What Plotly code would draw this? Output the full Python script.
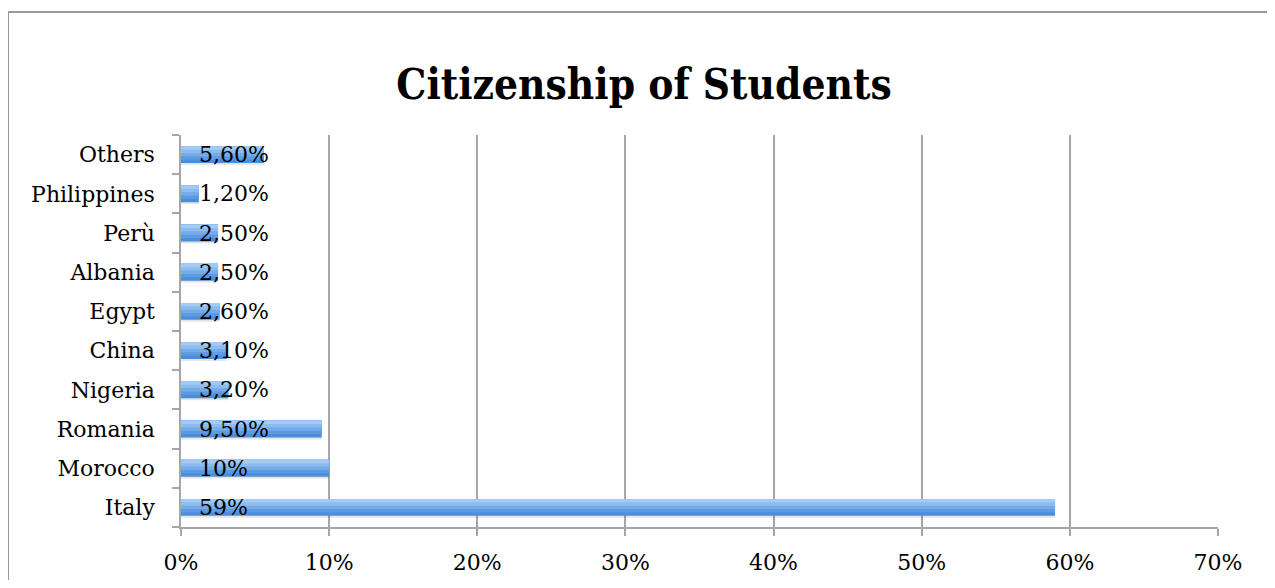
import plotly.graph_objects as go

countries = ["Italy", "Morocco", "Romania", "Nigeria", "China", "Egypt",
             "Albania", "Perù", "Philippines", "Others"]
shares = [59, 10, 9.5, 3.2, 3.1, 2.6, 2.5, 2.5, 1.2, 5.6]
labels = ["59%", "10%", "9,50%", "3,20%", "3,10%", "2,60%", "2,50%", "2,50%",
          "1,20%", "5,60%"]
x_ticks = [0, 10, 20, 30, 40, 50, 60, 70]
x_tick_text = ["0%", "10%", "20%", "30%", "40%", "50%", "60%", "70%"]

FONT = "DejaVu Serif"
GRAY = "#a6a6a6"
FS = 22

# gradient bands (bottom -> top) to mimic the shaded bars
band_colors = ["#4a8dd8", "#5c9ae2", "#75abeb", "#8dbcf1", "#a4cbf6"]
BAR_W = 0.43
n = len(band_colors)
bw = BAR_W / n

fig = go.Figure()
# soft shadow under the bar
fig.add_trace(go.Bar(
    x=shares, y=countries, orientation="h",
    width=0.06, offset=-BAR_W / 2 - 0.05,
    marker=dict(color="rgba(0,0,0,0.10)", line=dict(width=0)),
    hoverinfo="skip",
))
for i, col in enumerate(band_colors):
    fig.add_trace(go.Bar(
        x=shares, y=countries, orientation="h",
        width=BAR_W - i * bw, offset=-BAR_W / 2 + i * bw,
        marker=dict(color=col, line=dict(width=0)),
        hoverinfo="skip",
    ))

for c, lab in zip(countries, labels):
    fig.add_annotation(x=0, y=c, text=lab, showarrow=False, xanchor="left",
                       xshift=16, yshift=0,
                       font=dict(family=FONT, size=FS, color="#000000"))

# page has an 8px body margin; figure coordinates = page coordinates - 8
OFF = 8
W, H = 1275 - 2 * OFF, 588 - 2 * OFF
L, T = 181 - OFF, 135 - OFF
R = W - (1218 - OFF)
B = H - (527 - OFF)
pw, ph = W - L - R, H - T - B
fig.add_shape(type="rect", xref="paper", yref="paper",
              x0=(8 - OFF - L) / pw, x1=(1300 - L) / pw,
              y0=(H - B - 620) / ph, y1=(H - B - (12 - OFF)) / ph,
              line=dict(color="#999999", width=2), fillcolor="rgba(0,0,0,0)",
              layer="below")

fig.update_layout(
    width=W, height=H,
    margin=dict(l=L, r=R, t=T, b=B, autoexpand=False),
    paper_bgcolor="white", plot_bgcolor="white",
    showlegend=False,
    barmode="overlay",
    title=dict(text="<b>Citizenship of Students</b>", x=(644 - OFF - L) / pw,
               xref="paper", xanchor="center", y=1 - (84 - OFF) / H,
               yanchor="middle",
               font=dict(family="DejaVu Serif Condensed", size=42, color="#000000")),
    xaxis=dict(range=[0, 70], tickvals=x_ticks, ticktext=x_tick_text,
               showgrid=True, gridcolor=GRAY, gridwidth=1.5,
               showline=True, linecolor=GRAY, linewidth=1.5,
               ticks="outside", ticklen=7, tickcolor=GRAY, tickwidth=1.5,
               ticklabelstandoff=8, automargin=False,
               tickfont=dict(family=FONT, size=FS, color="#000000"),
               zeroline=False, fixedrange=True),
    yaxis=dict(type="category", categoryorder="array", categoryarray=countries,
               range=[-0.5, len(countries) - 0.5], automargin=False,
               showline=True, linecolor=GRAY, linewidth=1.5,
               ticks="outside", ticklen=7, tickcolor=GRAY, tickwidth=1.5,
               tickson="boundaries", showgrid=False, ticklabelstandoff=20,
               tickfont=dict(family=FONT, size=FS, color="#000000"),
               fixedrange=True),
)

fig.write_html("out.html")
